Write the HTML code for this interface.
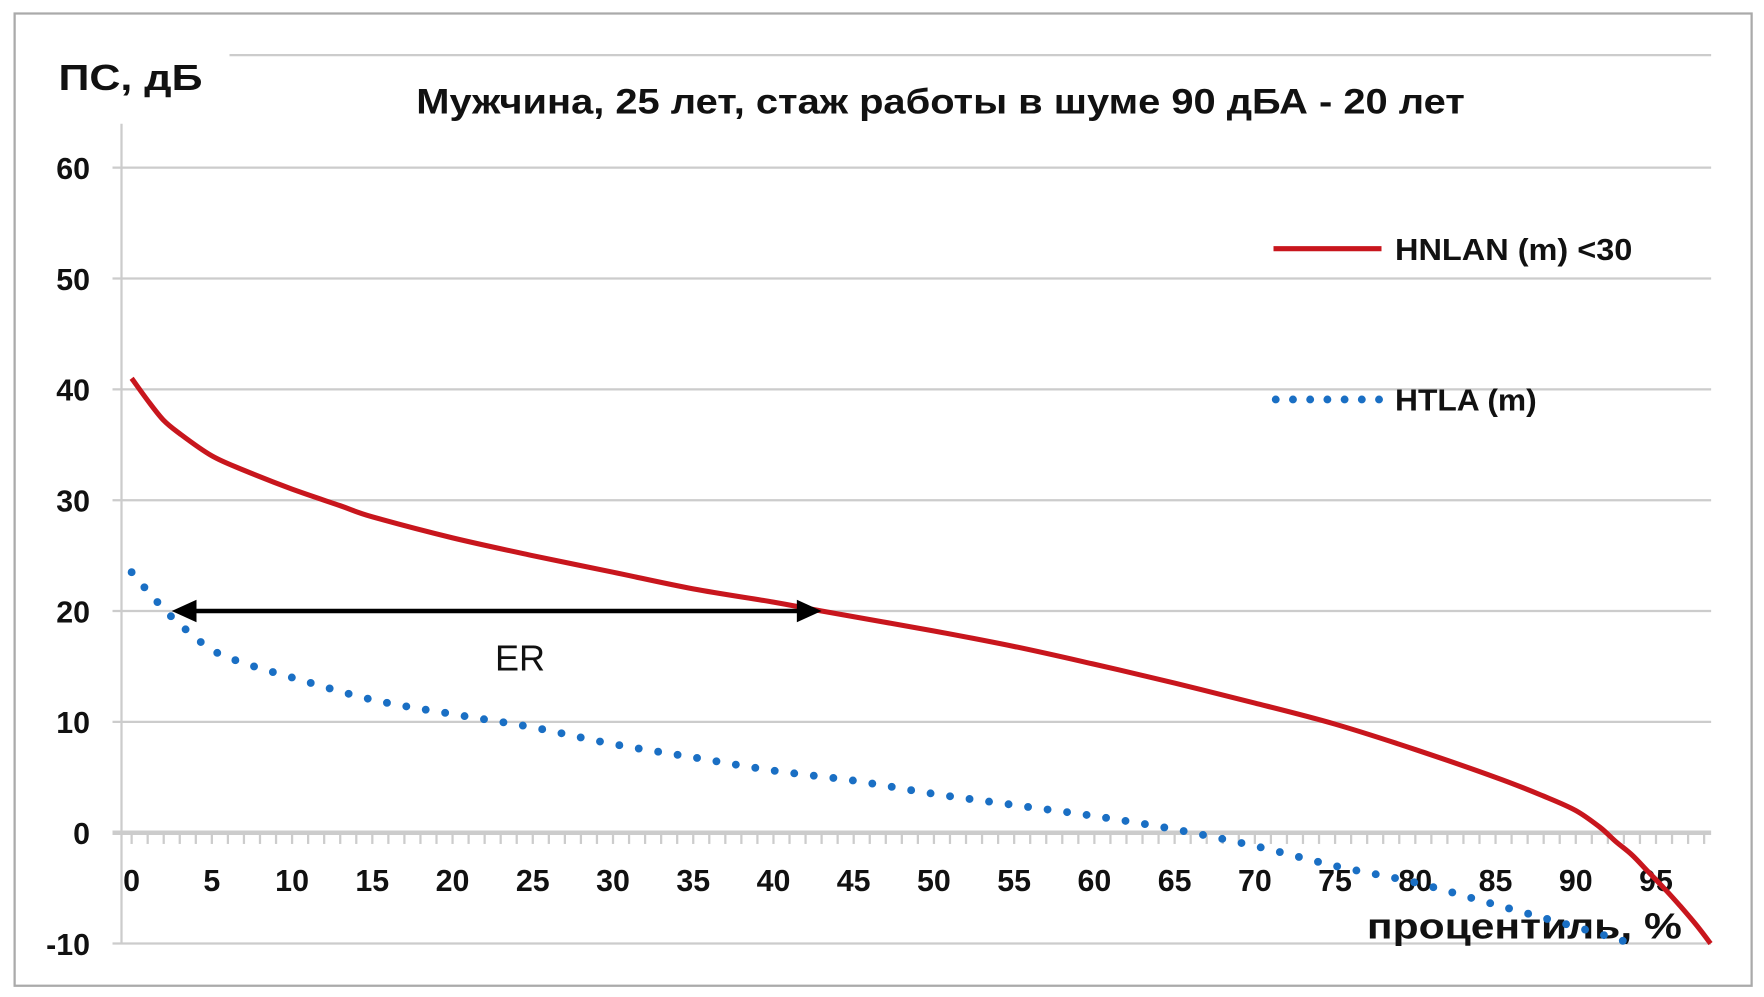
<!DOCTYPE html>
<html><head><meta charset="utf-8"><style>
html,body{margin:0;padding:0;background:#fff;width:1764px;height:997px;overflow:hidden}
svg{display:block}
text{font-family:"Liberation Sans",sans-serif;font-weight:bold;fill:#111}
</style></head><body>
<svg id="chart" width="1764" height="997" viewBox="0 0 1568 886" preserveAspectRatio="none">
<rect x="13" y="12" width="1544" height="864" fill="#fff" stroke="#aaa" stroke-width="2"/>
<line x1="204" y1="49" x2="1521" y2="49" stroke="#ccc" stroke-width="2"/>
<g id="grid"></g>
<g id="ticks"></g>
<line x1="108" y1="110" x2="108" y2="838" stroke="#ccc" stroke-width="2"/>
<g id="ylabels"></g>
<g id="xlabels"></g>
<text x="52" y="80" font-size="32" textLength="128" lengthAdjust="spacingAndGlyphs">ПС, дБ</text>
<text x="370" y="101" font-size="31" textLength="932" lengthAdjust="spacingAndGlyphs">Мужчина, 25 лет, стаж работы в шуме 90 дБА - 20 лет</text>
<text x="1215" y="834" font-size="32" textLength="280" lengthAdjust="spacingAndGlyphs">процентиль, %</text>
<path id="htla" fill="none" stroke="#1a6fc4" stroke-width="7" stroke-linecap="round" stroke-dasharray="0 17.5"/>
<path id="hnlan" fill="none" stroke="#c8161d" stroke-width="4.5"/>
<g>
<line id="erline" x1="0" y1="0" x2="0" y2="0" stroke="#000" stroke-width="4"/>
<polygon id="erL" fill="#000"/><polygon id="erR" fill="#000"/>
</g>
<text x="440" y="596" font-size="32" style="font-weight:normal">ER</text>
<g>
<line x1="1132" y1="221" x2="1228" y2="221" stroke="#c8161d" stroke-width="4.5"/>
<text x="1240" y="231" font-size="27" textLength="211" lengthAdjust="spacingAndGlyphs">HNLAN (m) &lt;30</text>
<line x1="1134" y1="355" x2="1226" y2="355" stroke="#1a6fc4" stroke-width="7" stroke-linecap="round" stroke-dasharray="0 15.3"/>
<text x="1240" y="365" font-size="27" textLength="126" lengthAdjust="spacingAndGlyphs">HTLA (m)</text>
</g>
</svg>
<script>
const yTicks=[60,50,40,30,20,10,0,-10];
const xTicks=[0,5,10,15,20,25,30,35,40,45,50,55,60,65,70,75,80,85,90,95];
const hnlanX=[0,1,2,3,5,7,10,13,15,20,25,30,35,40,43,50,55,60,65,70,75,80,85,88,90,91.5,92.5,93.5,94.5,95.5,96.5,97.5,98.4];
const hnlanY=[41,39,37.2,36,34,32.7,31,29.5,28.5,26.6,25,23.5,22,20.8,20,18.2,16.8,15.2,13.5,11.7,9.8,7.5,5,3.3,2,0.5,-0.8,-2,-3.5,-5,-6.6,-8.3,-10];
const htlaX=[0,1,2,3,5,7,10,15,20,25,30,35,40,45,50,55,60,65,70,75,80,85,90,93.5];
const htlaY=[23.5,21.8,20.2,18.8,16.5,15.3,14,12,10.7,9.5,8,6.8,5.6,4.7,3.5,2.5,1.5,0.3,-1.2,-3,-4.5,-6.5,-8.5,-10];
const erStart=2.5, erEnd=43, erValue=20;
const sx=v=>117+v*(1472-117)/95;
const sy=v=>740-v*9.85;
const NS='http://www.w3.org/2000/svg';
function mk(tag,attrs,parent){const e=document.createElementNS(NS,tag);for(const k in attrs)e.setAttribute(k,attrs[k]);parent.appendChild(e);return e;}
const grid=document.getElementById('grid'),yl=document.getElementById('ylabels'),xl=document.getElementById('xlabels'),tk=document.getElementById('ticks');
yTicks.forEach(v=>{
 const l=mk('line',{x1:100,x2:1521,y1:sy(v),y2:sy(v),stroke:'#ccc','stroke-width':v===0?4:2},grid);
 
 
 const t=mk('text',{x:80,y:sy(v)+10,'font-size':27,'text-anchor':'end'},yl);t.textContent=v;
 
 
});
for(let i=0;i<=98;i++){const l=mk('line',{x1:sx(i),x2:sx(i),y1:sy(0),y2:sy(0)+10,stroke:'#ccc','stroke-width':2},tk);
 
 }
xTicks.forEach(v=>{const t=mk('text',{x:sx(v),y:792,'font-size':27,'text-anchor':'middle'},xl);t.textContent=v;
 
 });
function path(xs,ys){
 const p=xs.map((x,i)=>[sx(x),sy(ys[i])]);
 let d='M'+p[0][0].toFixed(1)+','+p[0][1].toFixed(1);
 for(let i=0;i<p.length-1;i++){
  const p0=p[i-1]||p[i],p1=p[i],p2=p[i+1],p3=p[i+2]||p2;
  const c1=[p1[0]+(p2[0]-p0[0])/6,p1[1]+(p2[1]-p0[1])/6];
  const c2=[p2[0]-(p3[0]-p1[0])/6,p2[1]-(p3[1]-p1[1])/6];
  d+='C'+c1[0].toFixed(1)+','+c1[1].toFixed(1)+' '+c2[0].toFixed(1)+','+c2[1].toFixed(1)+' '+p2[0].toFixed(1)+','+p2[1].toFixed(1);
 }
 return d;
}
document.getElementById('hnlan').setAttribute('d',path(hnlanX,hnlanY));
document.getElementById('htla').setAttribute('d',path(htlaX,htlaY));
const ay=sy(erValue),a1=sx(erStart),a2=sx(erEnd);
const ln=document.getElementById('erline');ln.setAttribute('x1',a1+15);ln.setAttribute('x2',a2-15);ln.setAttribute('y1',ay);ln.setAttribute('y2',ay);
document.getElementById('erL').setAttribute('points',`${a1},${ay} ${a1+22},${ay-10} ${a1+22},${ay+10}`);
document.getElementById('erR').setAttribute('points',`${a2},${ay} ${a2-22},${ay-10} ${a2-22},${ay+10}`);
</script>
</body></html>
